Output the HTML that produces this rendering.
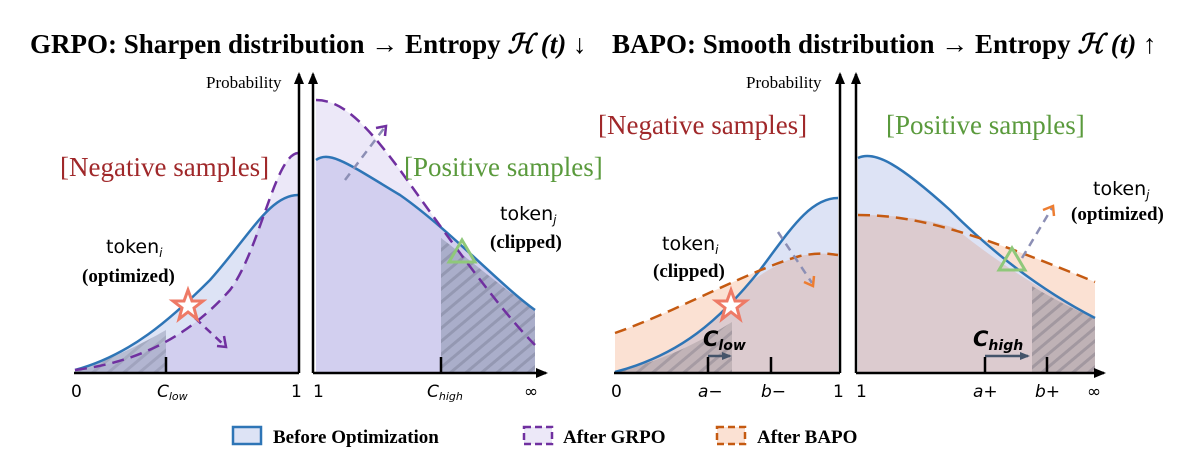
<!DOCTYPE html>
<html><head><meta charset="utf-8"><style>
body{margin:0;background:#fff;width:1199px;height:470px;overflow:hidden}
svg{font-family:"Liberation Serif",serif}
.s{font-family:"DejaVu Sans","Liberation Sans",sans-serif}
</style></head><body>
<svg width="1199" height="470" viewBox="0 0 1199 470">
<defs>
<pattern id="hatch" width="10" height="10" patternUnits="userSpaceOnUse" patternTransform="rotate(-40)">
<rect width="10" height="10" fill="#9da3bd"/><line x1="0" y1="5" x2="10" y2="5" stroke="#7f869e" stroke-width="3"/></pattern>
<pattern id="hatch2" width="10" height="10" patternUnits="userSpaceOnUse" patternTransform="rotate(-40)">
<rect width="10" height="10" fill="#b5a9ad"/><line x1="0" y1="5" x2="10" y2="5" stroke="#8f8790" stroke-width="3"/></pattern>
<marker id="ah" markerUnits="userSpaceOnUse" markerWidth="12" markerHeight="10" refX="10" refY="5" orient="auto"><path d="M0,0 L12,5 L0,10Z" fill="#000"/></marker>
<marker id="ah2" markerUnits="userSpaceOnUse" markerWidth="10" markerHeight="8" refX="8" refY="4" orient="auto"><path d="M0,0 L10,4 L0,8Z" fill="#44546a"/></marker>
</defs>
<text x="30" y="53" font-size="27" font-weight="bold">GRPO: Sharpen distribution → Entropy <tspan font-style="italic">ℋ (t)</tspan> ↓</text>
<text x="612" y="53" font-size="27" font-weight="bold">BAPO: Smooth distribution → Entropy <tspan font-style="italic">ℋ (t)</tspan> ↑</text>

<!-- GRPO left -->
<g>
<path d="M75,370 C140,362 190,335 230,290 C260,250 275,155 298,153 L298,373 L75,373Z" fill="#ece8f8"/>
<path d="M75,370 C130,355 170,320 210,280 C250,235 270,195 298,195 L298,373 L75,373Z" fill="#dde3f5"/>
<path d="M75,370 C140,362 190,335 230,290 C245,270 255,240 262,215 C275,200 285,195 298,195 L298,373 L75,373Z" fill="#d2cfef"/>
<path d="M75,370 C105,362 140,345 166,330 L166,373 L75,373Z" fill="url(#hatch)" opacity="0.6"/>
<path d="M75,370 C130,355 170,320 210,280 C250,235 270,195 298,195" fill="none" stroke="#2e75b6" stroke-width="2.5"/>
<path d="M75,370 C140,362 190,335 230,290 C260,250 275,155 298,153" fill="none" stroke="#7030a0" stroke-width="2.5" stroke-dasharray="12,7"/>
<line x1="195" y1="318" x2="224" y2="345" stroke="#7030a0" stroke-width="2.5" stroke-dasharray="8,6"/>
<path d="M217,346 L226,347 L224,336" fill="none" stroke="#7030a0" stroke-width="2.5"/>
<polygon points="188,290 192,301 203,301 194,308 197,319 188,312 179,319 182,308 173,301 184,301" fill="#fff" stroke="#ee7a66" stroke-width="3"/>
<text x="60" y="176" font-size="27" fill="#a0282a">[Negative samples]</text>
<text x="106" y="253" font-size="19" class="s">token<tspan font-size="12" dy="4" font-style="italic">i</tspan></text>
<text x="82" y="282" font-size="19" font-weight="bold">(optimized)</text>
</g>
<!-- GRPO right -->
<g>
<path d="M316,100 C345,100 370,130 400,170 C450,240 500,310 535,345 L535,373 L316,373Z" fill="#ece8f8"/>
<path d="M316,160 C330,150 350,165 400,195 C450,230 500,285 535,310 L535,373 L316,373Z" fill="#d2cfef"/>
<path d="M441,238 C470,260 505,290 535,310 L535,373 L441,373Z" fill="url(#hatch)" opacity="0.75"/>
<path d="M316,160 C330,150 350,165 400,195 C450,230 500,285 535,310" fill="none" stroke="#2e75b6" stroke-width="2.5"/>
<path d="M316,100 C345,100 370,130 400,170 C450,240 500,310 535,345" fill="none" stroke="#7030a0" stroke-width="2.5" stroke-dasharray="12,7"/>
<line x1="345" y1="180" x2="385" y2="127" stroke="#8c8fb5" stroke-width="2.5" stroke-dasharray="8,6"/>
<path d="M376,128 L386,126 L385,136" fill="none" stroke="#7030a0" stroke-width="2.5"/>
<polygon points="462,240 475,262 449,262" fill="none" stroke="#8fc87a" stroke-width="3"/>
<text x="404" y="176" font-size="27" fill="#5a9a3c">[Positive samples]</text>
<text x="500" y="220" font-size="19" class="s">token<tspan font-size="12" dy="4" font-style="italic">j</tspan></text>
<text x="490" y="248" font-size="19" font-weight="bold">(clipped)</text>
</g>
<g stroke="#000" stroke-width="2.5" fill="none">
<line x1="299" y1="373" x2="299" y2="74" marker-end="url(#ah)"/>
<line x1="313" y1="373" x2="313" y2="74" marker-end="url(#ah)"/>
<line x1="74" y1="373" x2="299" y2="373"/>
<line x1="313" y1="373" x2="546" y2="373" marker-end="url(#ah)"/>
<line x1="166" y1="373" x2="166" y2="357"/><line x1="441" y1="373" x2="441" y2="357"/>
</g>
<text x="206" y="88" font-size="17">Probability</text>
<g font-size="17" class="s">
<text x="71" y="397">0</text><text x="157" y="397" font-style="italic">C<tspan font-size="11" dy="3">low</tspan></text>
<text x="291" y="397">1</text><text x="313" y="397">1</text>
<text x="427" y="397" font-style="italic">C<tspan font-size="11" dy="3">high</tspan></text><text x="524" y="397">∞</text>
</g>

<!-- BAPO left -->
<g>
<path d="M615,333 C680,310 750,270 800,256 C820,252 830,254 838,255 L838,373 L615,373Z" fill="#fbe1d3"/>
<path d="M615,372 C680,355 720,320 760,270 C790,230 810,198 838,198 L838,373Z" fill="#dde3f5"/>
<path d="M615,372 C680,355 720,320 750,282 C770,268 790,258 800,256 C820,252 830,254 838,255 L838,373Z" fill="#dccbcf"/>
<path d="M615,372 C660,362 700,342 732,322 L732,373Z" fill="url(#hatch2)" opacity="0.7"/>
<path d="M615,372 C680,355 720,320 760,270 C790,230 810,198 838,198" fill="none" stroke="#2e75b6" stroke-width="2.5"/>
<path d="M615,333 C680,310 750,270 800,256 C820,252 830,254 838,255" fill="none" stroke="#c55a11" stroke-width="2.5" stroke-dasharray="12,7"/>
<line x1="778" y1="232" x2="812" y2="283" stroke="#8c8fb5" stroke-width="2.5" stroke-dasharray="8,6"/>
<path d="M804,282 L813,286 L814,276" fill="none" stroke="#ed7d31" stroke-width="2.5"/>
<polygon points="731,290 735,301 746,301 737,308 740,319 731,312 722,319 725,308 716,301 727,301" fill="#fff" stroke="#ee7a66" stroke-width="3"/>
<text x="598" y="134" font-size="27" fill="#a0282a">[Negative samples]</text>
<text x="662" y="250" font-size="19" class="s">token<tspan font-size="12" dy="4" font-style="italic">i</tspan></text>
<text x="653" y="277" font-size="19" font-weight="bold">(clipped)</text>
<text x="703" y="346" font-size="21" font-weight="bold" font-style="italic" class="s">C<tspan font-size="14" dy="4">low</tspan></text>
<line x1="708" y1="356" x2="730" y2="356" stroke="#44546a" stroke-width="2.5" marker-end="url(#ah2)"/>
</g>
<!-- BAPO right -->
<g>
<path d="M858,215 C920,215 980,235 1095,282 L1095,373 L858,373Z" fill="#fbe1d3"/>
<path d="M858,158 C875,150 900,165 950,210 C1000,260 1050,295 1095,318 L1095,373 L858,373Z" fill="#dde3f5"/>
<path d="M858,215 C910,215 935,222 955,228 C1000,265 1050,295 1095,318 L1095,373 L858,373Z" fill="#dccbcf"/>
<path d="M1032,286 C1055,300 1075,310 1095,318 L1095,373 L1032,373Z" fill="url(#hatch2)" opacity="0.75"/>
<path d="M858,158 C875,150 900,165 950,210 C1000,260 1050,295 1095,318" fill="none" stroke="#2e75b6" stroke-width="2.5"/>
<path d="M858,215 C920,215 980,235 1095,282" fill="none" stroke="#c55a11" stroke-width="2.5" stroke-dasharray="12,7"/>
<line x1="1022" y1="258" x2="1052" y2="208" stroke="#8c8fb5" stroke-width="2.5" stroke-dasharray="8,6"/>
<path d="M1043,210 L1053,206 L1054,216" fill="none" stroke="#ed7d31" stroke-width="2.5"/>
<polygon points="1012,248 1025,270 999,270" fill="none" stroke="#8fc87a" stroke-width="3"/>
<text x="886" y="134" font-size="27" fill="#5a9a3c">[Positive samples]</text>
<text x="1093" y="195" font-size="19" class="s">token<tspan font-size="12" dy="4" font-style="italic">j</tspan></text>
<text x="1071" y="220" font-size="19" font-weight="bold">(optimized)</text>
<text x="973" y="346" font-size="21" font-weight="bold" font-style="italic" class="s">C<tspan font-size="14" dy="4">high</tspan></text>
<line x1="985" y1="356" x2="1028" y2="356" stroke="#44546a" stroke-width="2.5" marker-end="url(#ah2)"/>
</g>
<g stroke="#000" stroke-width="2.5" fill="none">
<line x1="840" y1="373" x2="840" y2="74" marker-end="url(#ah)"/>
<line x1="856" y1="373" x2="856" y2="74" marker-end="url(#ah)"/>
<line x1="614" y1="373" x2="840" y2="373"/>
<line x1="856" y1="373" x2="1104" y2="373" marker-end="url(#ah)"/>
<line x1="708" y1="373" x2="708" y2="357"/><line x1="771" y1="373" x2="771" y2="357"/>
<line x1="985" y1="373" x2="985" y2="357"/><line x1="1047" y1="373" x2="1047" y2="357"/>
</g>
<text x="746" y="88" font-size="17">Probability</text>
<g font-size="17" class="s">
<text x="611" y="397">0</text><text x="698" y="397" font-style="italic">a−</text><text x="761" y="397" font-style="italic">b−</text>
<text x="833" y="397">1</text><text x="856" y="397">1</text>
<text x="973" y="397" font-style="italic">a+</text><text x="1035" y="397" font-style="italic">b+</text><text x="1087" y="397">∞</text>
</g>

<!-- legend -->
<g font-size="19" font-weight="bold">
<g><rect x="233" y="427" width="28" height="17" fill="#dde3f5" stroke="#2e75b6" stroke-width="2.5"/><text x="273" y="443">Before Optimization</text></g>
<g><rect x="524" y="427" width="28" height="17" fill="#ece8f8" stroke="#7030a0" stroke-width="2.5" stroke-dasharray="7,4"/><text x="563" y="443">After GRPO</text></g>
<g><rect x="717" y="427" width="28" height="17" fill="#fbe1d3" stroke="#c55a11" stroke-width="2.5" stroke-dasharray="7,4"/><text x="757" y="443">After BAPO</text></g>
</g>
</svg>
</body></html>
